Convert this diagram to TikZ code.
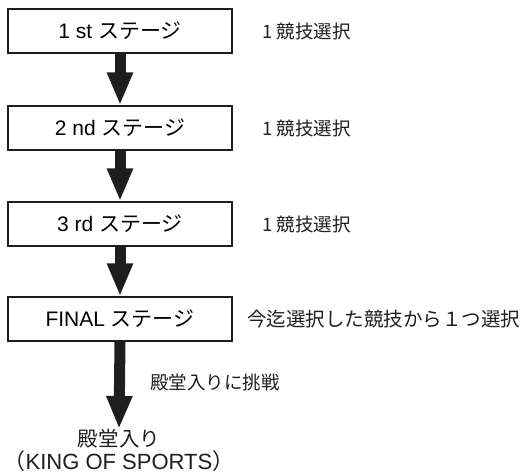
\documentclass[tikz,border=0pt]{standalone}
\usepackage{fontspec}
\setmainfont{Liberation Sans}
\newfontfamily\cjk{Noto Sans CJK JP}
\usetikzlibrary{arrows.meta}
\definecolor{ink}{HTML}{1E1E1E}
\tikzset{
  stagebox/.style={draw=ink, line width=1.3pt, minimum width=224pt, minimum height=44pt, inner sep=0pt, font=\fontsize{21}{24}\selectfont},
  sidelabel/.style={anchor=west, inner sep=0pt, text=ink, font=\fontsize{18.5}{22}\selectfont\cjk},
  bigarrow/.style={draw=ink, line width=11pt, -{Triangle[width=24pt,length=33pt,fill=ink]}}
}
\begin{document}
\begin{tikzpicture}[x=1pt,y=-1pt]
\useasboundingbox (0,0) rectangle (529,475);
\node[stagebox] (b1) at (120,31) {1 st {\cjk ステージ}};
\node[stagebox] (b2) at (120,128) {2 nd {\cjk ステージ}};
\node[stagebox] (b3) at (120,224) {3 rd {\cjk ステージ}};
\node[stagebox] (b4) at (120,319) {FINAL {\cjk ステージ}};
\node[sidelabel] (l1) at (262,31) {1 競技選択};
\node[sidelabel] (l2) at (262,128) {1 競技選択};
\node[sidelabel] (l3) at (262,224) {1 競技選択};
\node[sidelabel, font=\fontsize{19.5}{22}\selectfont\cjk] (l4) at (247,319) {今迄選択した競技から１つ選択};
\node[sidelabel] (l5) at (150,382) {殿堂入りに挑戦};
\node[anchor=north, align=center, inner sep=0pt, text=ink, font=\fontsize{20.5}{23}\selectfont] (hof) at (119,429)
  {{\cjk 殿堂入り}\\{\fontsize{22}{23}\selectfont{\cjk （}KING OF SPORTS{\cjk ）}}};
\draw[bigarrow] (b1.south) -- (b2.north);
\draw[bigarrow] (b2.south) -- (b3.north);
\draw[bigarrow] (b3.south) -- (b4.north);
\draw[bigarrow] (b4.south) -- (hof.north);
\end{tikzpicture}
\end{document}
